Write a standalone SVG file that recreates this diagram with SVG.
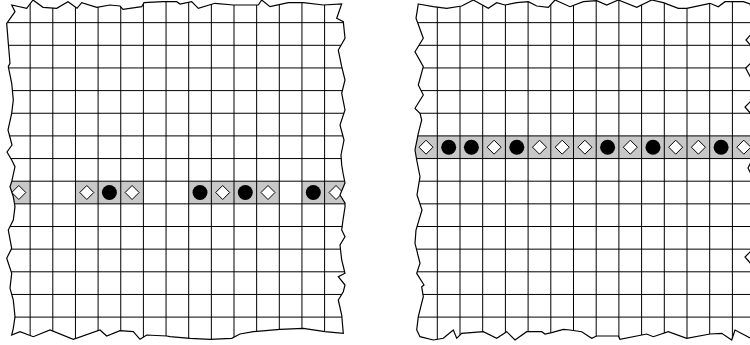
<svg xmlns="http://www.w3.org/2000/svg" xmlns:xlink="http://www.w3.org/1999/xlink" width="750" height="345" viewBox="0 0 750 345">
<style>
.paper{fill:#fff;stroke:none}
.edge{fill:none;stroke:#000;stroke-width:1.2;stroke-linejoin:miter}
.grid line{stroke:#000;stroke-width:1}
.hl{fill:#c8c8c8;stroke:none}
.dia{fill:#fff;stroke:#000;stroke-width:1}
.dot{fill:#000}
</style>
<defs>
<polygon id="leftShape" points="11.7,5 26.7,8.3 33,0 43,7.3 56.7,8.3 68,1.7 77,8.3 81.7,2.7 96.7,7.3 110,5 120,6 123,9.3 141.7,6.7 144,2.7 163,1.7 176.7,1.7 180,4 191.7,1.7 198.3,8.3 215,3.3 233.3,5 258.3,5 261.7,0 270,6.7 288.3,2.7 303.3,2.7 323.3,5 341.7,4 336.7,18.3 343.3,21.7 345,38.3 338.3,50 341.7,66.7 345,80 341.7,93.3 345,110 340,125 344,140 341,155 341.7,165 343,173 345,183 340,195 345,203 345,207 343,220 341.7,230 345,236.7 340,245 341.7,260 345,273.3 338.3,276.7 345,285 343.3,291.7 338.3,300 341.7,315 343.3,333.3 325,331.7 303.3,328.3 280,329.3 253.3,331.7 240,334 231.7,338.3 210,339.3 190,338.3 170,336.7 166.7,336 146.7,335 140,339.3 133.3,331.7 120,330.7 106.7,336 100,330 73.3,339.3 50,330 33.3,336.7 20,331.7 11.7,335 13.3,328.3 15,316.7 13.3,300 10,288.3 11.7,273.3 6.7,258.3 11.7,248.3 8.3,230 13.3,220 15,206.7 13.3,196.7 10,186.7 11.7,181.7 15,166.7 11.7,160 7,152 12,145 8,130 11.7,113.3 13.3,100 11.7,83.3 8.3,66.7 10,63.3 8.3,43.3 6.7,23.3 15,11.7"/>
<polygon id="rightShape" points="418.3,4 433.3,6.7 446.7,8.3 461.7,6 473.3,0 488.3,8.3 496.7,2.7 505,5 516.7,2.7 528.3,1.7 536.7,6 548.3,7.3 555,0 570,6.7 583.3,1.7 596.7,0.7 606.7,5 618.3,0 636.7,7.3 651.7,0 663.3,2.7 678.3,8.3 686.7,8.3 710,3.3 718.3,6.7 725,1.7 743.3,1.7 750,4 752,10 752,33 746,40 752,47 752,62 745.7,68 752,80 752,100 745,107 752,115 752,160 748,168 752,176 752,250 745,257 752,265 752,338 750,338 735,330 731.7,340 721.7,333.3 710,334 686.7,338.3 668.3,331.7 653.3,336.7 646.7,334 620,339.3 618.3,336 596.7,336 591.7,338.3 581.7,331.7 570,330 563.3,329.3 551.7,332.7 545,334 541.7,331.7 526.7,331.7 515,340 506.7,331.7 496.7,338.3 483.3,331.7 461.7,333.3 456.7,338.3 453.3,330 443.3,338.3 433.3,340 420,336.7 416.7,330 418.3,316.7 423.3,296.7 421.7,286.7 424,285 416.7,273.3 420,263.3 415,243.3 416,230 422,210 417,195 420,176.7 416.7,160 415,150 418.3,133.3 421.7,120 420,113.3 415,108.3 423.3,95 418.3,85 423.3,66.7 415,51.7 423.3,38.3 416,18.3"/>
<clipPath id="clipL"><use xlink:href="#leftShape"/></clipPath>
<clipPath id="clipR"><use xlink:href="#rightShape"/></clipPath>
<polygon id="diamond" class="dia" points="0,-7 7,0 0,7 -7,0"/>
<circle id="dot" class="dot" r="7.5"/>
</defs>

<g id="left-grid">
<use xlink:href="#leftShape" class="paper"/>
<g clip-path="url(#clipL)">
<g id="left-highlight">
<rect class="hl" x="0" y="181.2" width="30.15" height="22.65"/>
<rect class="hl" x="75.45" y="181.2" width="67.95" height="22.65"/>
<rect class="hl" x="188.7" y="181.2" width="90.6" height="22.65"/>
<rect class="hl" x="301.95" y="181.2" width="50" height="22.65"/>
</g>
<g class="grid">
<line x1="30.15" y1="0" x2="30.15" y2="345"/>
<line x1="52.8" y1="0" x2="52.8" y2="345"/>
<line x1="75.45" y1="0" x2="75.45" y2="345"/>
<line x1="98.1" y1="0" x2="98.1" y2="345"/>
<line x1="120.75" y1="0" x2="120.75" y2="345"/>
<line x1="143.4" y1="0" x2="143.4" y2="345"/>
<line x1="166.05" y1="0" x2="166.05" y2="345"/>
<line x1="188.7" y1="0" x2="188.7" y2="345"/>
<line x1="211.35" y1="0" x2="211.35" y2="345"/>
<line x1="234" y1="0" x2="234" y2="345"/>
<line x1="256.65" y1="0" x2="256.65" y2="345"/>
<line x1="279.3" y1="0" x2="279.3" y2="345"/>
<line x1="301.95" y1="0" x2="301.95" y2="345"/>
<line x1="324.6" y1="0" x2="324.6" y2="345"/>
<line x1="0" y1="22.65" x2="350" y2="22.65"/>
<line x1="0" y1="45.3" x2="350" y2="45.3"/>
<line x1="0" y1="67.95" x2="350" y2="67.95"/>
<line x1="0" y1="90.6" x2="350" y2="90.6"/>
<line x1="0" y1="113.25" x2="350" y2="113.25"/>
<line x1="0" y1="135.9" x2="350" y2="135.9"/>
<line x1="0" y1="158.55" x2="350" y2="158.55"/>
<line x1="0" y1="181.2" x2="350" y2="181.2"/>
<line x1="0" y1="203.85" x2="350" y2="203.85"/>
<line x1="0" y1="226.5" x2="350" y2="226.5"/>
<line x1="0" y1="249.15" x2="350" y2="249.15"/>
<line x1="0" y1="271.8" x2="350" y2="271.8"/>
<line x1="0" y1="294.45" x2="350" y2="294.45"/>
<line x1="0" y1="317.1" x2="350" y2="317.1"/>
</g>
<g id="left-marks">
<use xlink:href="#diamond" x="18.8" y="192.5"/>
<use xlink:href="#diamond" x="86.8" y="192.5"/>
<use xlink:href="#dot" x="109.4" y="192.5"/>
<use xlink:href="#diamond" x="132.1" y="192.5"/>
<use xlink:href="#dot" x="200" y="192.5"/>
<use xlink:href="#diamond" x="222.7" y="192.5"/>
<use xlink:href="#dot" x="245.3" y="192.5"/>
<use xlink:href="#diamond" x="268" y="192.5"/>
<use xlink:href="#dot" x="313.3" y="192.5"/>
<use xlink:href="#diamond" x="336" y="192.5"/>
</g>
</g>
<use xlink:href="#leftShape" class="edge"/>
</g>

<g id="right-grid">
<use xlink:href="#rightShape" class="paper"/>
<g clip-path="url(#clipR)">
<g id="right-highlight">
<rect class="hl" x="405" y="135.9" width="350" height="22.65"/>
</g>
<g class="grid">
<line x1="437.3" y1="0" x2="437.3" y2="345"/>
<line x1="460" y1="0" x2="460" y2="345"/>
<line x1="482.7" y1="0" x2="482.7" y2="345"/>
<line x1="505.4" y1="0" x2="505.4" y2="345"/>
<line x1="528.1" y1="0" x2="528.1" y2="345"/>
<line x1="550.8" y1="0" x2="550.8" y2="345"/>
<line x1="573.5" y1="0" x2="573.5" y2="345"/>
<line x1="596.2" y1="0" x2="596.2" y2="345"/>
<line x1="618.9" y1="0" x2="618.9" y2="345"/>
<line x1="641.6" y1="0" x2="641.6" y2="345"/>
<line x1="664.3" y1="0" x2="664.3" y2="345"/>
<line x1="687" y1="0" x2="687" y2="345"/>
<line x1="709.7" y1="0" x2="709.7" y2="345"/>
<line x1="732.4" y1="0" x2="732.4" y2="345"/>
<line x1="405" y1="22.65" x2="755" y2="22.65"/>
<line x1="405" y1="45.3" x2="755" y2="45.3"/>
<line x1="405" y1="67.95" x2="755" y2="67.95"/>
<line x1="405" y1="90.6" x2="755" y2="90.6"/>
<line x1="405" y1="113.25" x2="755" y2="113.25"/>
<line x1="405" y1="135.9" x2="755" y2="135.9"/>
<line x1="405" y1="158.55" x2="755" y2="158.55"/>
<line x1="405" y1="181.2" x2="755" y2="181.2"/>
<line x1="405" y1="203.85" x2="755" y2="203.85"/>
<line x1="405" y1="226.5" x2="755" y2="226.5"/>
<line x1="405" y1="249.15" x2="755" y2="249.15"/>
<line x1="405" y1="271.8" x2="755" y2="271.8"/>
<line x1="405" y1="294.45" x2="755" y2="294.45"/>
<line x1="405" y1="317.1" x2="755" y2="317.1"/>
</g>
<g id="right-marks">
<use xlink:href="#diamond" x="426" y="147.2"/>
<use xlink:href="#dot" x="448.7" y="147.2"/>
<use xlink:href="#dot" x="471.4" y="147.2"/>
<use xlink:href="#diamond" x="494.1" y="147.2"/>
<use xlink:href="#dot" x="516.8" y="147.2"/>
<use xlink:href="#diamond" x="539.5" y="147.2"/>
<use xlink:href="#diamond" x="562.2" y="147.2"/>
<use xlink:href="#diamond" x="584.9" y="147.2"/>
<use xlink:href="#dot" x="607.6" y="147.2"/>
<use xlink:href="#diamond" x="630.3" y="147.2"/>
<use xlink:href="#dot" x="653" y="147.2"/>
<use xlink:href="#diamond" x="675.7" y="147.2"/>
<use xlink:href="#diamond" x="698.4" y="147.2"/>
<use xlink:href="#dot" x="721.1" y="147.2"/>
<use xlink:href="#diamond" x="743.8" y="147.2"/>
</g>
</g>
<use xlink:href="#rightShape" class="edge"/>
</g>
</svg>
